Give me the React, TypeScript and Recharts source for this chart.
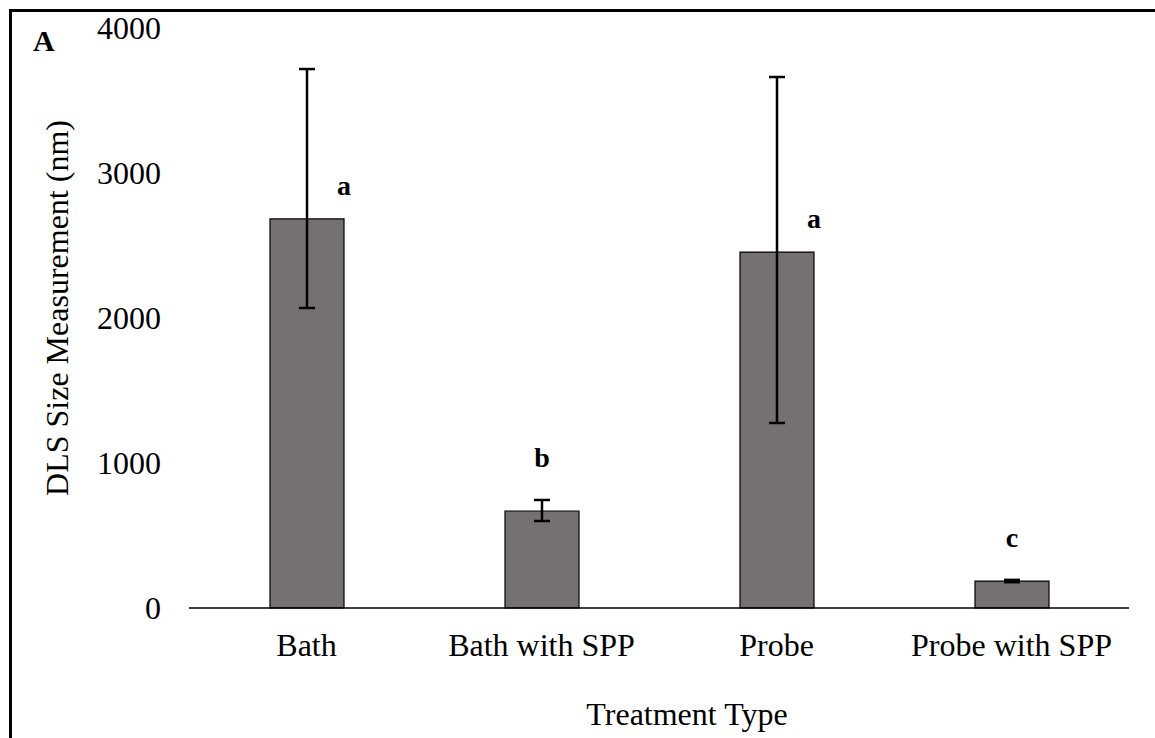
import React from 'react';
import { ComposedChart, Bar, XAxis, YAxis, ErrorBar } from 'recharts';

// DLS particle size by sonication treatment
const treatments = ['Bath', 'Bath with SPP', 'Probe', 'Probe with SPP'];
const meanSize = [2683, 669, 2455, 186];
const errLow = [614, 69, 1179, 8];
const errHigh = [1034, 76, 1207, 8];
const groupLetters = ['a', 'b', 'a', 'c'];
const yTicks = [0, 1000, 2000, 3000, 4000];

const data = treatments.map((t, i) => ({
  treatment: t,
  size: meanSize[i],
  err: [errLow[i], errHigh[i]],
}));

const FONT = '"Liberation Serif", "Times New Roman", serif';

// Significance letter: beside the bar when the whisker is tall, otherwise above the whisker
const renderLetter = (props: any) => {
  const { x, y, width, height, index } = props;
  const pxPerUnit = height / meanSize[index];
  const whiskerPx = errHigh[index] * pxPerUnit;
  const tall = whiskerPx > 60;
  const lx = tall ? x + width : x + width / 2;
  const ly = tall ? y - 24 : y - whiskerPx - 33;
  return (
    <text
      key={`letter-${index}`}
      x={lx}
      y={ly}
      textAnchor="middle"
      fontFamily={FONT}
      fontWeight="bold"
      fontSize={28}
      fill="#000"
    >
      {groupLetters[index]}
    </text>
  );
};

const renderYTitle = (props: any) => {
  const vb = props.viewBox;
  const cx = vb.x - 21;
  const cy = vb.y + vb.height / 2 - 10;
  return (
    <text
      x={cx}
      y={cy}
      transform={`rotate(-90, ${cx}, ${cy})`}
      textAnchor="middle"
      fontFamily={FONT}
      fontSize={32}
      fill="#000"
    >
      DLS Size Measurement (nm)
    </text>
  );
};

const renderXTitle = (props: any) => {
  const vb = props.viewBox;
  return (
    <text
      x={vb.x + vb.width / 2 + 28}
      y={vb.y + vb.height + 57}
      textAnchor="middle"
      fontFamily={FONT}
      fontSize={32}
      fill="#000"
    >
      Treatment Type
    </text>
  );
};

export default function App() {
  return (
    <div style={{ position: 'absolute', left: 0, top: 0, width: 1155, height: 738, background: '#fff', overflow: 'hidden' }}>
      <div
        style={{
          position: 'absolute',
          left: 9,
          top: 9,
          width: 1200,
          height: 800,
          borderTop: '3px solid #000',
          borderLeft: '3px solid #000',
        }}
      />
      <div
        style={{
          position: 'absolute',
          left: 33,
          top: 23,
          fontFamily: FONT,
          fontWeight: 'bold',
          fontSize: 30,
          lineHeight: '36px',
        }}
      >
        A
      </div>
      <div style={{ position: 'absolute', left: 0, top: 0 }}>
        <ComposedChart
          width={1155}
          height={738}
          data={data}
          margin={{ top: 28, right: 26, bottom: 70, left: 89 }}
        >
          <XAxis
            dataKey="treatment"
            interval={0}
            height={60}
            axisLine={{ stroke: '#000', strokeWidth: 1.5 }}
            tickLine={false}
            tickSize={0}
            tickMargin={25}
            tick={{ fill: '#000', fontSize: 32, fontFamily: FONT }}
            label={renderXTitle}
          />
          <YAxis
            domain={[0, 4000]}
            ticks={yTicks}
            width={100}
            axisLine={false}
            tickLine={false}
            tickSize={0}
            tickMargin={28}
            tick={{ fill: '#000', fontSize: 32, fontFamily: FONT }}
            label={renderYTitle}
          />
          <Bar
            dataKey="size"
            fill="#767171"
            stroke="#000"
            strokeWidth={1.2}
            barSize={74}
            isAnimationActive={false}
            label={renderLetter}
          >
            <ErrorBar dataKey="err" direction="y" width={8} stroke="#000" strokeWidth={2.5} />
          </Bar>
        </ComposedChart>
      </div>
    </div>
  );
}
